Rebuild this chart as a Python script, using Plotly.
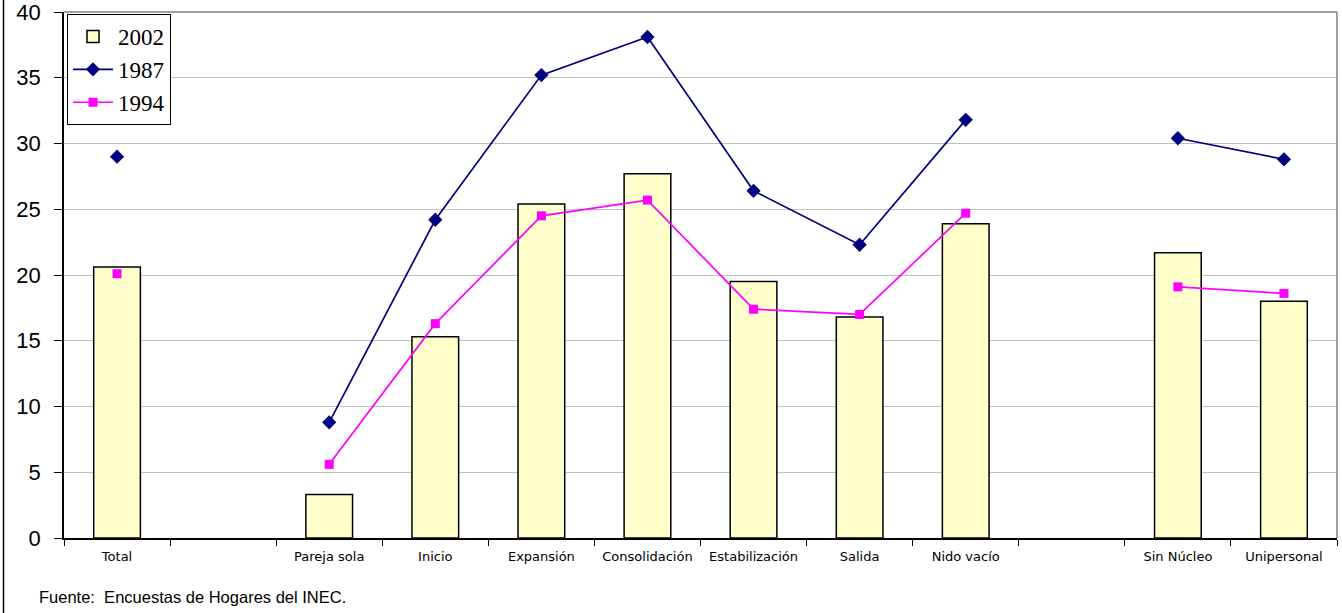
import plotly.graph_objects as go

categories = ["Total", "", "Pareja sola", "Inicio", "Expansión", "Consolidación",
              "Estabilización", "Salida", "Nido vacío", "", "Sin Núcleo", "Unipersonal"]
values_2002 = [20.6, None, 3.3, 15.3, 25.4, 27.7, 19.5, 16.8, 23.9, None, 21.7, 18.0]
values_1987 = [29.0, None, 8.8, 24.2, 35.2, 38.1, 26.4, 22.3, 31.8, None, 30.4, 28.8]
values_1994 = [20.1, None, 5.6, 16.3, 24.5, 25.7, 17.4, 17.0, 24.7, None, 19.1, 18.6]
y_ticks = [0, 5, 10, 15, 20, 25, 30, 35, 40]
source_note = "Fuente:  Encuestas de Hogares del INEC."

x = list(range(len(categories)))

fig = go.Figure()
fig.add_trace(go.Bar(
    x=x, y=values_2002, name="2002", width=0.44,
    marker=dict(color="#FFFFCC", line=dict(color="black", width=1.5)),
))
fig.add_trace(go.Scatter(
    x=x, y=values_1987, name="1987", mode="lines+markers", connectgaps=False,
    line=dict(color="#000080", width=1.7),
    marker=dict(symbol="diamond", size=11, color="#000080"),
))
fig.add_trace(go.Scatter(
    x=x, y=values_1994, name="1994", mode="lines+markers", connectgaps=False,
    line=dict(color="#FF00FF", width=1.7),
    marker=dict(symbol="square", size=9, color="#FF00FF"),
))

W, H = 1342, 613
L, R, T, B = 64, 5, 12, 75
pw, ph = W - L - R, H - T - B

fig.update_layout(
    width=W, height=H,
    margin=dict(l=L, r=R, t=T, b=B, pad=0, autoexpand=False),
    paper_bgcolor="white", plot_bgcolor="white",
    showlegend=True,
    legend=dict(
        x=(67 - L) / pw, y=(H - B - 14) / ph, xanchor="left", yanchor="top",
        bgcolor="white", bordercolor="black", borderwidth=1,
        font=dict(family="Liberation Serif, Times New Roman, serif", size=23, color="black"),
        tracegroupgap=0, itemwidth=40,
    ),
    xaxis=dict(
        range=[-0.5, len(categories) - 0.5], automargin=False,
        tickmode="array", tickvals=x, ticktext=categories,
        ticks="", showgrid=False, zeroline=False,
        showline=True, linecolor="black", linewidth=1.5,
        tickfont=dict(family="DejaVu Sans, Arial, sans-serif", size=13, color="black"),
        ticklabelstandoff=6,
        minor=dict(tickmode="array", tickvals=[i + 0.5 for i in range(-1, len(categories))],
                   ticks="outside", ticklen=6, tickcolor="black", tickwidth=1, showgrid=False),
    ),
    yaxis=dict(
        range=[0, 40], tickmode="array", tickvals=y_ticks, automargin=False,
        ticks="outside", ticklen=8, tickcolor="black", tickwidth=1,
        showgrid=True, gridcolor="#C0C0C0", gridwidth=1, zeroline=False,
        showline=True, linecolor="black", linewidth=1.5,
        tickfont=dict(family="Liberation Sans, Arial, sans-serif", size=22, color="black"),
        ticklabelstandoff=9, ticklabeloverflow="allow",
    ),
)

# plot-area frame (top and right in grey)
fig.add_shape(type="line", xref="paper", yref="paper", x0=0, x1=1, y0=1, y1=1,
              line=dict(color="#808080", width=1.5))
fig.add_shape(type="line", xref="paper", yref="paper", x0=1, x1=1, y0=0, y1=1,
              line=dict(color="#808080", width=1.5))
# outer chart frame left edge
fig.add_shape(type="line", xref="paper", yref="paper",
              x0=(3.5 - L) / pw, x1=(3.5 - L) / pw, y0=-(B) / ph, y1=(H - B) / ph,
              line=dict(color="black", width=1.5))

fig.add_annotation(
    text=source_note, xref="paper", yref="paper",
    x=(37 - L) / pw, y=(H - B - 597) / ph, xanchor="left", yanchor="middle",
    showarrow=False,
    font=dict(family="Liberation Sans, Arial, sans-serif", size=16.5, color="black"),
)

fig.write_html(
    "out.html",
    config={"displayModeBar": False},
    post_script="document.body.style.margin='0';document.body.style.overflow='hidden';",
)
